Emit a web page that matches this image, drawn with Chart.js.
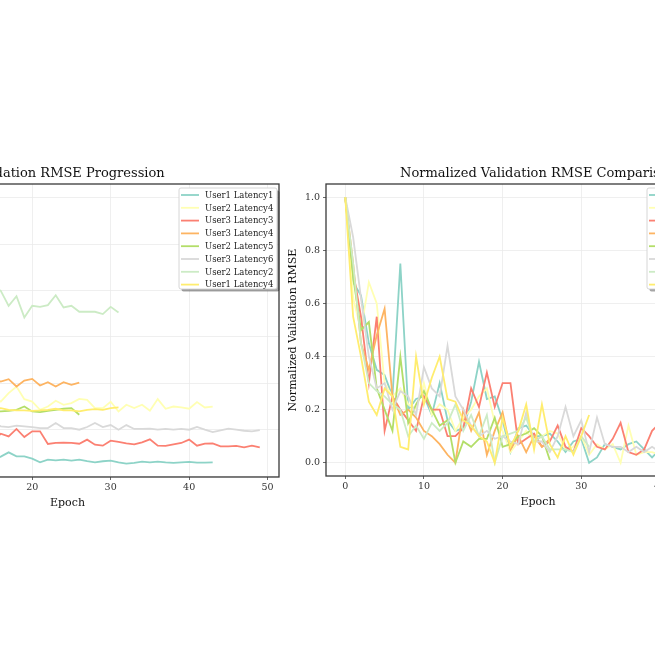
<!DOCTYPE html>
<html><head><meta charset="utf-8">
<script src="https://cdn.jsdelivr.net/npm/chart.js@4.4.1/dist/chart.umd.min.js"></script>
<style>
html,body{margin:0;padding:0;width:655px;height:655px;overflow:hidden;background:#fff;}
#wrap{position:relative;width:655px;height:655px;overflow:hidden;background:#fff;}
#c1{position:absolute;left:-200px;top:160px;width:490px;height:354px;}
#c2{position:absolute;left:280px;top:160px;width:480px;height:353px;}
</style></head><body>
<div id="wrap"><canvas id="c1" width="490" height="354"></canvas><canvas id="c2" width="480" height="353"></canvas></div>
<script>
// ---------- data ----------
const seriesNames = ['User1 Latency1','User2 Latency4','User3 Latency3','User3 Latency4','User2 Latency5','User3 Latency6','User2 Latency2','User1 Latency4'];
const seriesColors = ['#8dd3c7','#ffffb3','#fb8072','#fdb462','#b3de69','#d9d9d9','#ccebc5','#ffed6f'];
const xTicks = [0,10,20,30,40,50];
const yTicksLeft = [0.05,0.10,0.15,0.20,0.25,0.30,0.35];
const yTicksRight = [0.0,0.2,0.4,0.6,0.8,1.0];

// raw validation RMSE (left panel)
const rawU1L1 = [0.0955,0.0853,0.0837,0.0779,0.0747,0.0741,0.0715,0.0875,0.0699,0.0712,0.0715,0.0693,0.0731,0.0686,0.0673,0.0677,
  0.0710,0.0756,0.0713,0.0713,0.0688,0.0648,0.0678,0.0670,0.0678,0.0667,0.0678,0.0660,0.0648,0.0660,0.0667,0.0648,0.0635,0.0642,0.0656,0.0648,0.0656,0.0648,0.0642,0.0648,0.0653,0.0645,0.0645,0.0648];
const rawU2L4 = [0.217,0.1798,0.168,0.1856,0.1778,0.1484,0.1435,0.1464,0.1406,0.1386,0.1484,0.1366,0.1406,0.1386,0.1308,0.1357,
  0.1304,0.1395,0.1466,0.1330,0.1304,0.1215,0.1250,0.1312,0.1269,0.1287,0.1333,0.1323,0.1233,0.1233,0.1301,0.1197,0.1269,0.1233,0.1269,0.1204,0.1330,0.1226,0.1250,0.1240,0.1226,0.1298,0.1240,0.1250];
const rawU3L3 = [0.1397,0.1232,0.1132,0.0984,0.1132,0.0878,0.0955,0.0925,0.0901,0.0878,0.0955,0.0925,0.0925,0.0866,0.0866,0.0884,
  0.0957,0.0928,0.1008,0.0921,0.0982,0.0982,0.0846,0.0857,0.0860,0.0857,0.0849,0.0893,0.0839,0.0828,0.0882,0.0868,0.0853,0.0842,0.0864,0.0896,0.0828,0.0825,0.0842,0.0857,0.0893,0.0828,0.0849,0.0853,0.0821,0.0821,0.0825,0.0810,0.0828,0.0810];
const rawU3L4 = [0.194,0.1818,0.167,0.1622,0.1685,0.1734,0.1573,0.1538,0.1548,0.1533,0.1509,0.1499,0.1484,0.1465,0.145,0.1548,
  0.152,0.1545,0.1466,0.153,0.1548,0.1477,0.1513,0.1466,0.1513,0.1484,0.1509];
const rawU2L5 = [0.1715,0.1547,0.1435,0.1452,0.1312,0.1267,0.1222,0.1379,0.1239,0.1278,0.1306,0.1267,0.1233,0.1245,0.1155,0.12,
  0.1197,0.1204,0.1215,0.125,0.1197,0.119,0.1204,0.1215,0.1226,0.1233,0.1161];
const rawU3L6 = [0.1485,0.141,0.1291,0.1179,0.1118,0.1128,0.1077,0.1113,0.1103,0.1067,0.1159,0.1118,0.1103,0.12,0.1103,0.1077,
  0.1036,0.1029,0.1043,0.1036,0.1029,0.1018,0.1018,0.1072,0.1018,0.1018,0.1000,0.1029,0.1072,0.1029,0.1050,0.1000,0.1050,0.1008,0.1008,0.1011,0.1000,0.1008,0.1000,0.1008,0.1000,0.1029,0.1000,0.0975,0.0993,0.1011,0.1000,0.0989,0.0982,0.0996];
const rawU2L2 = [0.46,0.40,0.33,0.30,0.29,0.285,0.28,0.275,0.25,0.26,0.25,0.265,0.255,0.265,0.28,0.255,
  0.2498,0.2336,0.2440,0.2211,0.2336,0.2325,0.2344,0.2451,0.2319,0.2336,0.2272,0.2272,0.2272,0.2247,0.2325,0.2265];
const rawU1L4 = [0.1395,0.1305,0.1275,0.1241,0.1231,0.1251,0.1245,0.1207,0.1205,0.1275,0.1239,0.1259,0.1275,0.1243,0.1241,0.1227,
  0.1233,0.1215,0.1208,0.1208,0.1204,0.1208,0.1215,0.1226,0.1208,0.1208,0.1197,0.1215,0.1222,0.1215,0.1233,0.1240];

// normalized validation RMSE (right panel)
const normU1L1 = [1.0,0.68,0.63,0.45,0.35,0.33,0.25,0.75,0.20,0.24,0.25,0.18,0.30,0.16,0.12,0.13,0.23,0.38,0.24,0.25,0.16,0.04,0.13,0.14,0.10,0.10,0.11,0.08,0.04,0.08,0.09,0.0,0.02,0.07,0.06,0.05,0.07,0.08,0.05,0.02,0.05,0.04,0.04,0.04];
const normU2L4 = [1.0,0.62,0.50,0.68,0.60,0.30,0.25,0.28,0.22,0.20,0.30,0.18,0.22,0.20,0.12,0.17,0.20,0.25,0.28,0.15,0.12,0.04,0.08,0.12,0.08,0.10,0.12,0.11,0.05,0.06,0.10,0.03,0.07,0.05,0.07,0.0,0.14,0.03,0.04,0.04,0.03,0.10,0.04,0.05];
const normU3L3 = [1.0,0.72,0.55,0.30,0.55,0.12,0.25,0.20,0.16,0.12,0.25,0.20,0.20,0.10,0.10,0.13,0.28,0.21,0.34,0.21,0.30,0.30,0.07,0.09,0.11,0.06,0.08,0.14,0.06,0.04,0.13,0.10,0.06,0.05,0.09,0.15,0.04,0.03,0.05,0.12,0.15,0.04,0.08,0.08,0.02,0.02,0.02,0.0,0.03,0.0];
const normU3L4 = [1.0,0.75,0.45,0.35,0.48,0.58,0.25,0.18,0.20,0.17,0.12,0.10,0.07,0.03,0.0,0.20,0.12,0.19,0.03,0.12,0.19,0.05,0.10,0.04,0.10,0.06,0.09];
const normU2L5 = [1.0,0.70,0.50,0.53,0.28,0.20,0.12,0.40,0.15,0.22,0.27,0.20,0.14,0.16,0.0,0.08,0.06,0.09,0.09,0.17,0.06,0.07,0.10,0.11,0.13,0.10,0.01];
const normU3L6 = [1.0,0.85,0.62,0.40,0.28,0.30,0.20,0.27,0.25,0.18,0.36,0.28,0.25,0.44,0.25,0.20,0.14,0.10,0.12,0.09,0.10,0.08,0.07,0.19,0.08,0.08,0.04,0.10,0.21,0.10,0.16,0.04,0.17,0.07,0.06,0.06,0.04,0.06,0.04,0.06,0.04,0.10,0.04,0.0,0.03,0.06,0.04,0.02,0.01,0.03];
const normU2L2 = [1.0,0.75,0.45,0.30,0.27,0.25,0.22,0.20,0.10,0.14,0.09,0.15,0.12,0.15,0.22,0.12,0.18,0.10,0.18,0.0,0.10,0.11,0.12,0.17,0.08,0.10,0.05,0.05,0.05,0.04,0.10,0.06];
const normU1L4 = [1.0,0.55,0.40,0.23,0.18,0.28,0.25,0.06,0.05,0.40,0.22,0.32,0.40,0.24,0.23,0.16,0.14,0.10,0.08,0.0,0.17,0.06,0.12,0.22,0.05,0.22,0.07,0.02,0.10,0.03,0.10,0.18];

const rawSeries = [rawU1L1,rawU2L4,rawU3L3,rawU3L4,rawU2L5,rawU3L6,rawU2L2,rawU1L4];
const normSeries = [normU1L1,normU2L4,normU3L3,normU3L4,normU2L5,normU3L6,normU2L2,normU1L4];

// ---------- chart building ----------
const FONT = 'DejaVu Serif';

const frameLegend = {
  id: 'frameLegend',
  afterDatasetsDraw(chart, args, o) {
    const ctx = chart.ctx, a = chart.chartArea;
    ctx.save();
    ctx.strokeStyle = '#3a3a3a';
    ctx.lineWidth = 1.3;
    ctx.strokeRect(a.left, a.top, a.right - a.left, a.bottom - a.top);
    const w = 98, h = 101;
    const x = a.right - o.gap - w, y = a.top + 4;
    ctx.fillStyle = 'rgba(0,0,0,0.35)';
    ctx.beginPath(); ctx.roundRect(x + 2.5, y + 2.5, w, h, 2); ctx.fill();
    ctx.fillStyle = '#ffffff';
    ctx.beginPath(); ctx.roundRect(x, y, w, h, 2); ctx.fill();
    ctx.strokeStyle = '#cccccc'; ctx.lineWidth = 0.8; ctx.stroke();
    ctx.font = '8.5px "' + FONT + '"';
    ctx.textBaseline = 'middle';
    ctx.textAlign = 'left';
    chart.data.datasets.forEach((d, i) => {
      const yy = y + 7 + i * 12.8;
      ctx.strokeStyle = d.borderColor; ctx.lineWidth = 1.8;
      ctx.beginPath(); ctx.moveTo(x + 2, yy); ctx.lineTo(x + 20, yy); ctx.stroke();
      ctx.fillStyle = '#222';
      ctx.fillText(d.label, x + 26, yy + 0.5);
    });
    ctx.restore();
  }
};

function makeDatasets(list) {
  return list.map((vals, i) => ({
    label: seriesNames[i],
    data: vals.map((v, e) => ({x: e, y: v})),
    borderColor: seriesColors[i],
    backgroundColor: seriesColors[i],
    borderWidth: 1.8,
    pointRadius: 0,
    tension: 0,
    fill: false,
    order: list.length - i
  }));
}

function makeOptions(cfg) {
  return {
    responsive: false,
    animation: false,
    layout: {padding: {left: 0, right: cfg.padRight, top: 0, bottom: 0}},
    plugins: {
      legend: {display: false},
      tooltip: {enabled: false},
      title: {display: true, text: cfg.title, fullSize: false, color: '#111',
        font: {family: FONT, size: 13, weight: 'normal'}, padding: {top: 6, bottom: 2.4}},
      frameLegend: {gap: cfg.legendGap}
    },
    scales: {
      x: {
        type: 'linear', min: -2.45, max: 51.45,
        afterBuildTicks: s => { s.ticks = xTicks.map(v => ({value: v})); },
        afterFit: s => { s.height = 37; },
        grid: {color: '#ebebeb', lineWidth: 0.8, drawTicks: true, tickLength: 3, tickColor: '#444'},
        border: {display: false},
        ticks: {color: '#333', font: {family: FONT, size: 9.5}, padding: 2, maxRotation: 0, autoSkip: false,
          callback: v => String(v)},
        title: {display: true, text: 'Epoch', color: '#111', font: {family: FONT, size: 11}, padding: {top: 2, bottom: 4.4}}
      },
      y: {
        type: 'linear', min: cfg.yMin, max: cfg.yMax,
        afterBuildTicks: s => { s.ticks = cfg.yTicks.map(v => ({value: v})); },
        afterFit: s => { s.width = cfg.yWidth; },
        grid: {color: '#ebebeb', lineWidth: 0.8, drawTicks: true, tickLength: 3, tickColor: '#444'},
        border: {display: false},
        ticks: {color: '#333', font: {family: FONT, size: 9.5}, padding: 3, autoSkip: false,
          callback: v => Number(v).toFixed(cfg.dec)},
        title: {display: true, text: cfg.yTitle, color: '#111', font: {family: FONT, size: 11}, padding: {top: cfg.yTitlePad, bottom: 2}}
      }
    }
  };
}

new Chart(document.getElementById('c1'), {
  type: 'line',
  data: {datasets: makeDatasets(rawSeries)},
  options: makeOptions({title: 'Validation RMSE Progression', yTitle: 'Validation RMSE', yMin: 0.049, yMax: 0.365,
    yTicks: yTicksLeft, yWidth: 56, dec: 2, yTitlePad: 6.5, padRight: 11, legendGap: 2}),
  plugins: [frameLegend]
});

new Chart(document.getElementById('c2'), {
  type: 'line',
  data: {datasets: makeDatasets(normSeries)},
  options: makeOptions({title: 'Normalized Validation RMSE Comparison', yTitle: 'Normalized Validation RMSE', yMin: -0.05, yMax: 1.05,
    yTicks: yTicksRight, yWidth: 46, dec: 1, yTitlePad: 7, padRight: 10, legendGap: 5}),
  plugins: [frameLegend]
});
</script>
</body></html>
